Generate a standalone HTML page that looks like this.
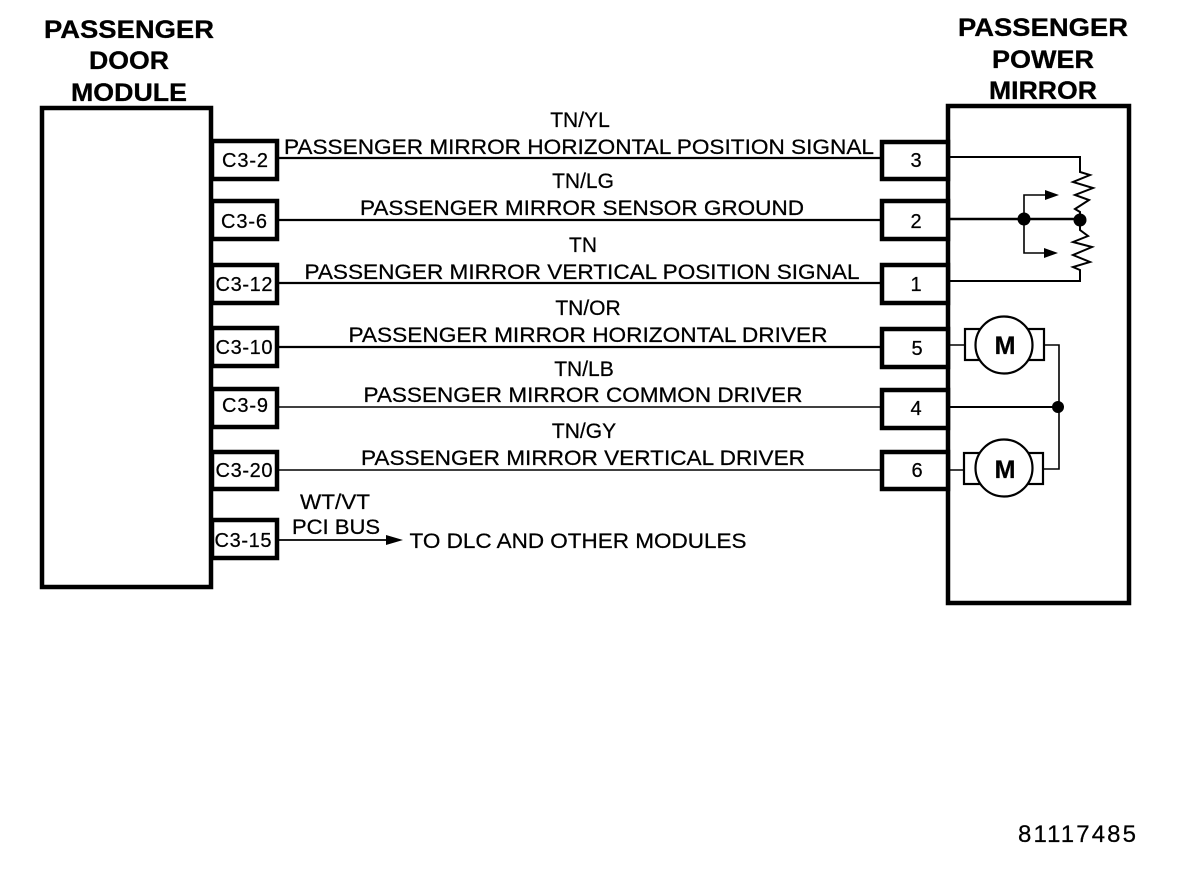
<!DOCTYPE html>
<html><head><meta charset="utf-8">
<style>
html,body{margin:0;padding:0;background:#fff}
svg{display:block}
text{font-family:"Liberation Sans",sans-serif;fill:#000;text-anchor:middle;stroke:#000;stroke-width:.25}
.b{font-weight:bold;font-size:25px;stroke-width:.3}
.t{font-size:21px}
.c{font-size:20px}
.n{font-size:20px}
</style></head><body>
<svg width="1184" height="872" viewBox="0 0 1184 872" xmlns="http://www.w3.org/2000/svg">
<text class="b" x="129" y="38" textLength="170" lengthAdjust="spacingAndGlyphs">PASSENGER</text>
<text class="b" x="129" y="69" textLength="80" lengthAdjust="spacingAndGlyphs">DOOR</text>
<text class="b" x="129" y="101" textLength="116" lengthAdjust="spacingAndGlyphs">MODULE</text>
<text class="b" x="1043" y="36" textLength="170" lengthAdjust="spacingAndGlyphs">PASSENGER</text>
<text class="b" x="1043" y="68" textLength="102" lengthAdjust="spacingAndGlyphs">POWER</text>
<text class="b" x="1043" y="99" textLength="108" lengthAdjust="spacingAndGlyphs">MIRROR</text>

<g fill="#fff" stroke="#000" stroke-width="4.5">
<rect x="42" y="108" width="169" height="479"/>
<rect x="948" y="106" width="181" height="497"/>
<rect x="212" y="141" width="65" height="38"/>
<rect x="212" y="201" width="65" height="38"/>
<rect x="212" y="265" width="65" height="38"/>
<rect x="212" y="328" width="65" height="38"/>
<rect x="212" y="389" width="65" height="38"/>
<rect x="212" y="452" width="65" height="37"/>
<rect x="212" y="520" width="65" height="38"/>
<rect x="882" y="142" width="66" height="37"/>
<rect x="882" y="201" width="66" height="38"/>
<rect x="882" y="265" width="66" height="38"/>
<rect x="882" y="329" width="66" height="38"/>
<rect x="882" y="390" width="66" height="38"/>
<rect x="882" y="452" width="66" height="37"/>
</g>

<g stroke="#000" fill="none" stroke-width="2">
<path d="M277 158H881M277 220H881M277 283H881M277 347H881" stroke-width="2.2"/>
<path d="M277 407H881M277 470H881" stroke-width="1.6"/>
<path d="M277 540H392" stroke-width="1.8"/>
<path d="M950 157H1080V172L1090 175L1073 182L1093 188L1075 195L1089 200L1075 209L1080 212V219"/>
<path d="M950 219H1081" stroke-width="2.4"/>
<path d="M1080 220V230L1088 236L1073 242L1092 247L1073 255L1090 262L1073 267L1080 270V281H950"/>
<path d="M1024 219V195H1047M1024 219V253H1047" stroke-width="1.6"/>
<path d="M950 407H1058" stroke-width="2"/>
<path d="M950 345H965M1044 345H1059V469H1044M950 470H965" stroke-width="1.6"/>
</g>
<g fill="#000">
<circle cx="1024" cy="219" r="6.5"/>
<circle cx="1080" cy="220" r="6.5"/>
<circle cx="1058" cy="407" r="6"/>
<path d="M1045 190L1059 195L1045 200ZM1044 248L1058 253L1044 258ZM386 535L403 540L386 545Z"/>
</g>
<g fill="#fff" stroke="#000" stroke-width="2.2">
<rect x="965" y="329" width="16" height="31"/>
<rect x="1028" y="329" width="16" height="31"/>
<rect x="964" y="453" width="16" height="31"/>
<rect x="1028" y="453" width="15" height="31"/>
<circle cx="1004" cy="345" r="28.5"/>
<circle cx="1004" cy="468" r="28.5"/>
</g>
<text class="b" x="1005" y="354" style="font-size:25px">M</text>
<text class="b" x="1005" y="478" style="font-size:25px">M</text>

<text class="c" x="245" y="167" textLength="46">C3-2</text>
<text class="c" x="244" y="228" textLength="46">C3-6</text>
<text class="c" x="244" y="291" textLength="57">C3-12</text>
<text class="c" x="244" y="354" textLength="57">C3-10</text>
<text class="c" x="245" y="412" textLength="46">C3-9</text>
<text class="c" x="244" y="477" textLength="57">C3-20</text>
<text class="c" x="243" y="547" textLength="57">C3-15</text>
<text class="n" x="916" y="167">3</text>
<text class="n" x="916" y="228">2</text>
<text class="n" x="916" y="291">1</text>
<text class="n" x="917" y="355">5</text>
<text class="n" x="916" y="415">4</text>
<text class="n" x="917" y="477">6</text>

<text class="t" x="580" y="127">TN/YL</text>
<text class="t" x="579" y="154" textLength="590" lengthAdjust="spacingAndGlyphs">PASSENGER MIRROR HORIZONTAL POSITION SIGNAL</text>
<text class="t" x="583" y="188">TN/LG</text>
<text class="t" x="582" y="215" textLength="444" lengthAdjust="spacingAndGlyphs">PASSENGER MIRROR SENSOR GROUND</text>
<text class="t" x="583" y="252">TN</text>
<text class="t" x="582" y="279" textLength="555" lengthAdjust="spacingAndGlyphs">PASSENGER MIRROR VERTICAL POSITION SIGNAL</text>
<text class="t" x="588" y="315">TN/OR</text>
<text class="t" x="588" y="342" textLength="479" lengthAdjust="spacingAndGlyphs">PASSENGER MIRROR HORIZONTAL DRIVER</text>
<text class="t" x="584" y="376">TN/LB</text>
<text class="t" x="583" y="402" textLength="439" lengthAdjust="spacingAndGlyphs">PASSENGER MIRROR COMMON DRIVER</text>
<text class="t" x="584" y="438">TN/GY</text>
<text class="t" x="583" y="465" textLength="444" lengthAdjust="spacingAndGlyphs">PASSENGER MIRROR VERTICAL DRIVER</text>
<text class="t" x="335" y="509" textLength="70" lengthAdjust="spacingAndGlyphs">WT/VT</text>
<text class="t" x="336" y="534" textLength="88" lengthAdjust="spacingAndGlyphs">PCI BUS</text>
<text class="t" x="578" y="548" textLength="337" lengthAdjust="spacingAndGlyphs">TO DLC AND OTHER MODULES</text>
<text class="t" x="1077" y="842" textLength="118" style="font-size:24px">81117485</text>
</svg>
</body></html>
